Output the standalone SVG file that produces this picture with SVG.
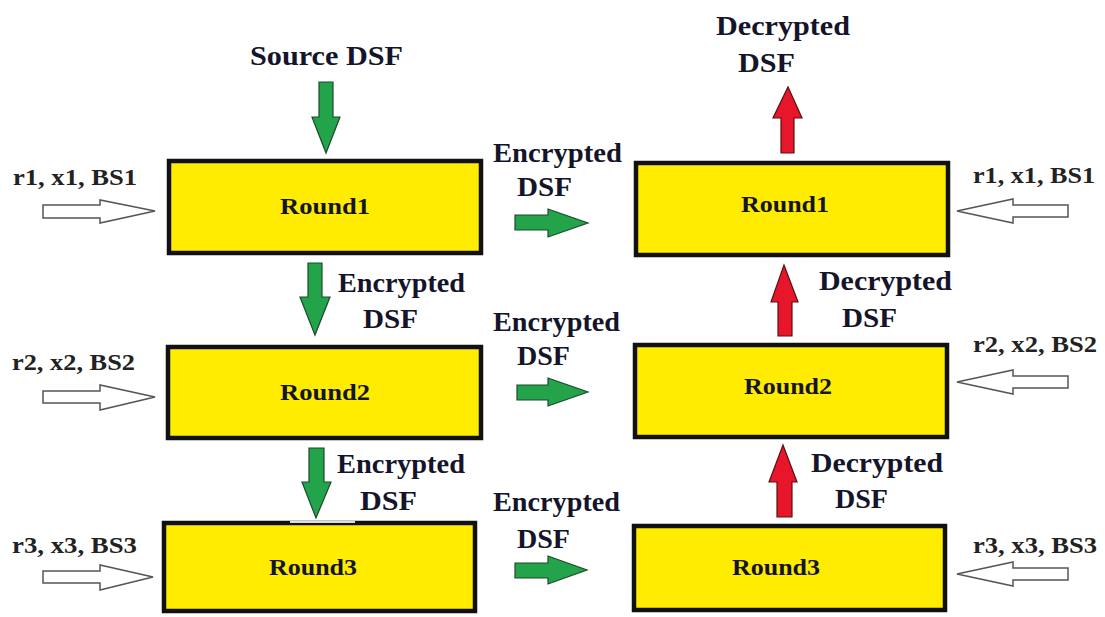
<svg xmlns="http://www.w3.org/2000/svg" width="1105" height="617" viewBox="0 0 1105 617">
  <style>
    .box { fill: #ffec00; stroke: #111; stroke-width: 4.5; }
    .lbl { font-family: "Liberation Serif", "Times New Roman", serif; font-weight: bold; fill: #14142a; font-size: 28px; }
    .rnd { font-family: "Liberation Serif", "Times New Roman", serif; font-weight: bold; fill: #14142a; font-size: 23px; }
    .key { font-family: "Liberation Serif", "Times New Roman", serif; font-weight: bold; fill: #222; font-size: 24px; }
    .enc { fill: #23a34a; stroke: #1d4a2a; stroke-width: 1.2; stroke-linejoin: miter; }
    .dec { fill: #e8162a; stroke: #5a1015; stroke-width: 1.2; }
    .inp { fill: #fff; stroke: #555; stroke-width: 1.5; }
  </style>
  <rect width="1105" height="617" fill="#fff"/>

  <!-- encryption side -->
  <g id="enc-round1">
    <rect class="box" x="169" y="161" width="312" height="92"/>
    <text class="rnd" x="325" y="214" text-anchor="middle" textLength="90" lengthAdjust="spacingAndGlyphs">Round1</text>
  </g>
  <g id="enc-round2">
    <rect class="box" x="168" y="347" width="313" height="91"/>
    <text class="rnd" x="325" y="400" text-anchor="middle" textLength="90" lengthAdjust="spacingAndGlyphs">Round2</text>
  </g>
  <g id="enc-round3">
    <rect class="box" x="164" y="523" width="311" height="88"/>
    <line x1="290" y1="522" x2="355" y2="522" stroke="#ddd" stroke-width="2"/>
    <text class="rnd" x="313" y="575" text-anchor="middle" textLength="88" lengthAdjust="spacingAndGlyphs">Round3</text>
  </g>

  <!-- decryption side -->
  <g id="dec-round1">
    <rect class="box" x="636" y="163" width="312" height="92"/>
    <text class="rnd" x="785" y="212" text-anchor="middle" textLength="88" lengthAdjust="spacingAndGlyphs">Round1</text>
  </g>
  <g id="dec-round2">
    <rect class="box" x="635" y="345" width="312" height="92"/>
    <text class="rnd" x="788" y="394" text-anchor="middle" textLength="88" lengthAdjust="spacingAndGlyphs">Round2</text>
  </g>
  <g id="dec-round3">
    <rect class="box" x="634" y="526" width="311" height="84"/>
    <text class="rnd" x="776" y="575" text-anchor="middle" textLength="88" lengthAdjust="spacingAndGlyphs">Round3</text>
  </g>

  <!-- connectors -->
  <g id="connectors">
    <!-- down arrows into the encryption rounds -->
    <polygon class="enc" points="319,82 333,82 333,117 340,117 326,153 312,117 319,117"/>
    <polygon class="enc" points="308,263 322,263 322,297 330,297 315,335 300,297 308,297"/>
    <polygon class="enc" points="309,448 324,448 324,482 331,482 316,518 302,482 309,482"/>
    <!-- encrypted data passed across -->
    <polygon class="enc" points="515,215 548,215 548,209 588,223 548,237 548,230 515,230"/>
    <polygon class="enc" points="517,385 548,385 548,378 588,392 548,406 548,400 517,400"/>
    <polygon class="enc" points="515,563 548,563 548,556 587,570 548,584 548,578 515,578"/>
    <!-- up arrows through the decryption rounds -->
    <polygon class="dec" points="781,153 781,118 773,118 788,87 802,118 794,118 794,153"/>
    <polygon class="dec" points="778,336 778,302 771,302 784,265 798,302 792,302 792,336"/>
    <polygon class="dec" points="777,517 777,482 769,482 783,445 797,482 792,482 792,517"/>
    <!-- key inputs, left -->
    <polygon class="inp" points="43,205 100,205 100,200 155,211 100,223 100,218 43,218"/>
    <polygon class="inp" points="43,391 100,391 100,385 155,397 100,410 100,403 43,403"/>
    <polygon class="inp" points="43,571 100,571 100,565 153,577 100,590 100,583 43,583"/>
    <!-- key inputs, right -->
    <polygon class="inp" points="1068,205 1013,205 1013,199 957,211 1013,223 1013,217 1068,217"/>
    <polygon class="inp" points="1068,376 1013,376 1013,370 957,382 1013,394 1013,388 1068,388"/>
    <polygon class="inp" points="1068,568 1013,568 1013,562 957,574 1013,586 1013,580 1068,580"/>
  </g>

  <!-- labels -->
  <g id="labels">
    <text class="lbl" x="250" y="65" textLength="153" lengthAdjust="spacingAndGlyphs">Source DSF</text>
    <text class="lbl" x="716" y="35" textLength="134" lengthAdjust="spacingAndGlyphs">Decrypted</text>
    <text class="lbl" x="738" y="72" textLength="57" lengthAdjust="spacingAndGlyphs">DSF</text>

    <text class="lbl" x="493" y="162" textLength="129" lengthAdjust="spacingAndGlyphs">Encrypted</text>
    <text class="lbl" x="517" y="196" textLength="55" lengthAdjust="spacingAndGlyphs">DSF</text>
    <text class="lbl" x="493" y="331" textLength="127" lengthAdjust="spacingAndGlyphs">Encrypted</text>
    <text class="lbl" x="517" y="365" textLength="53" lengthAdjust="spacingAndGlyphs">DSF</text>
    <text class="lbl" x="493" y="511" textLength="127" lengthAdjust="spacingAndGlyphs">Encrypted</text>
    <text class="lbl" x="517" y="548" textLength="53" lengthAdjust="spacingAndGlyphs">DSF</text>

    <text class="lbl" x="338" y="292" textLength="127" lengthAdjust="spacingAndGlyphs">Encrypted</text>
    <text class="lbl" x="363" y="328" textLength="55" lengthAdjust="spacingAndGlyphs">DSF</text>
    <text class="lbl" x="337" y="473" textLength="128" lengthAdjust="spacingAndGlyphs">Encrypted</text>
    <text class="lbl" x="360" y="510" textLength="57" lengthAdjust="spacingAndGlyphs">DSF</text>

    <text class="lbl" x="819" y="290" textLength="133" lengthAdjust="spacingAndGlyphs">Decrypted</text>
    <text class="lbl" x="842" y="327" textLength="55" lengthAdjust="spacingAndGlyphs">DSF</text>
    <text class="lbl" x="811" y="472" textLength="132" lengthAdjust="spacingAndGlyphs">Decrypted</text>
    <text class="lbl" x="835" y="508" textLength="53" lengthAdjust="spacingAndGlyphs">DSF</text>

    <text class="key" x="13" y="185" textLength="124" lengthAdjust="spacingAndGlyphs">r1, x1, BS1</text>
    <text class="key" x="12" y="370" textLength="123" lengthAdjust="spacingAndGlyphs">r2, x2, BS2</text>
    <text class="key" x="12" y="553" textLength="125" lengthAdjust="spacingAndGlyphs">r3, x3, BS3</text>
    <text class="key" x="973" y="183" textLength="122" lengthAdjust="spacingAndGlyphs">r1, x1, BS1</text>
    <text class="key" x="973" y="352" textLength="124" lengthAdjust="spacingAndGlyphs">r2, x2, BS2</text>
    <text class="key" x="973" y="553" textLength="124" lengthAdjust="spacingAndGlyphs">r3, x3, BS3</text>
  </g>
</svg>
